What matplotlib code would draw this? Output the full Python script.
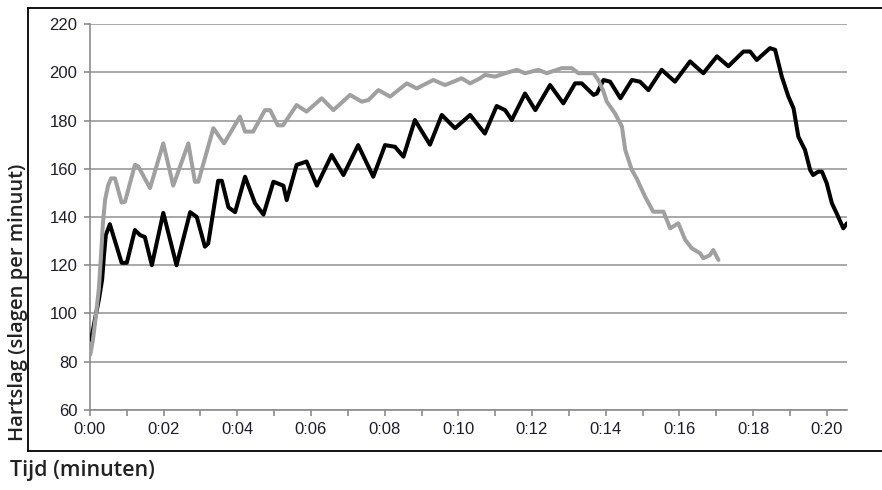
import numpy as np
import matplotlib
matplotlib.use("Agg")
import matplotlib.pyplot as plt
from matplotlib.lines import Line2D

# Heart rate traces: time in minutes, rate in bpm
black_t = [0.03, 0.14, 0.24, 0.33, 0.38, 0.43, 0.54, 0.86, 1.00, 1.22, 1.36, 1.49, 1.68,
           1.99, 2.35, 2.72, 2.90, 3.12, 3.21, 3.48, 3.58, 3.76, 3.94, 4.21, 4.48, 4.71,
           4.98, 5.25, 5.34, 5.61, 5.88, 6.16, 6.56, 6.88, 7.28, 7.69, 8.01, 8.28, 8.51,
           8.82, 9.23, 9.55, 9.91, 10.32, 10.72, 11.04, 11.27, 11.45, 11.81, 12.09, 12.49,
           12.85, 13.17, 13.35, 13.67, 13.76, 13.94, 14.12, 14.40, 14.71, 14.93, 15.16,
           15.52, 15.88, 16.29, 16.65, 17.02, 17.33, 17.74, 17.92, 18.10, 18.46, 18.60,
           18.78, 18.96, 19.10, 19.23, 19.41, 19.55, 19.63, 19.77, 19.87, 20.00, 20.14,
           20.27, 20.45, 20.55]
black_bpm = [89, 98, 105.6, 114, 124, 132.5, 137, 121, 121, 134.6, 132.5, 131.7, 120,
             141.7, 120, 142, 140, 127.7, 129, 155, 155, 144, 142, 156.7, 145.7, 141,
             154.6, 153, 147, 161.6, 163, 153, 165.7, 157.4, 169.8, 156.7, 169.8, 169.1, 165,
             180.2, 170, 182.3, 176.8, 182.3, 174.6, 186, 184.3, 180.2, 191.2, 184.3, 194.7,
             187.1, 195.4, 195.4, 190.6, 191.2, 196.8, 196.1, 189.2, 196.8, 196.1, 192.6,
             201, 196.1, 204.5, 199.6, 206.6, 202.5, 208.6, 208.6, 205.1, 210, 209.3,
             198.2, 189.9, 185, 173.3, 167.8, 159.5, 157.4, 158.8, 158.8, 154, 145.7,
             141.5, 135.3, 137.4]

grey_t = [0.01, 0.08, 0.16, 0.24, 0.30, 0.35, 0.41, 0.49, 0.57, 0.68, 0.86, 0.95, 1.22,
          1.31, 1.63, 1.99, 2.26, 2.67, 2.85, 2.94, 3.35, 3.64, 4.07, 4.21, 4.43, 4.75,
          4.89, 5.10, 5.24, 5.61, 5.88, 6.29, 6.61, 7.06, 7.38, 7.56, 7.83, 8.15, 8.60,
          8.87, 9.32, 9.64, 10.09, 10.32, 10.59, 10.72, 11.00, 11.27, 11.59, 11.81, 12.17,
          12.40, 12.81, 13.08, 13.26, 13.67, 13.80, 13.94, 14.03, 14.25, 14.44, 14.53,
          14.71, 14.84, 15.07, 15.29, 15.57, 15.75, 15.97, 16.16, 16.34, 16.56, 16.65,
          16.83, 16.92, 17.06]
grey_bpm = [83, 89, 99, 110, 124, 137, 147, 153, 156, 156, 146, 146.3, 161.6,
            161, 152, 170.5, 153, 170.5, 154.6, 154.6, 176.8, 170.5, 181.6, 175.4, 175.4, 184.3,
            184.3, 178, 178, 186.4, 183.7, 189.2, 184.3, 190.6, 187.8, 188.5, 192.6, 189.9, 195.4,
            193.3, 196.8, 194.7, 197.5, 195.4, 197.5, 198.9, 198.2, 199.6, 201, 199.6, 201,
            199.6, 201.7, 201.7, 199.6, 199.6, 196.8, 192, 187.8, 183, 177.5, 167.8,
            159.5, 156, 148.4, 142.2, 142.2, 135.3, 137.4, 130.5, 127, 125, 122.9,
            124.2, 126.3, 122.2]

y_ticks = [60, 80, 100, 120, 140, 160, 180, 200, 220]
x_labels = ["0:%02d" % m for m in range(0, 21, 2)]

axis_grey = "#8c8c8c"
label_font = ["Open Sans", "DejaVu Sans"]

fig = plt.figure(figsize=(8.82, 4.9), dpi=100)
ax = fig.add_axes([0.1020, 0.1633, 0.8583, 0.7877])

ax.plot(black_t, black_bpm, color="black", lw=2.9, solid_joinstyle="round",
        solid_capstyle="round", zorder=3)
ax.plot(grey_t, grey_bpm, color="#a0a0a0", lw=2.9, solid_joinstyle="round",
        solid_capstyle="round", zorder=4)

ax.set_xlim(0, 20.55)
ax.set_ylim(60, 220)
ax.set_yticks(y_ticks)
ax.set_xticks(range(0, 21, 2))
ax.set_xticklabels(x_labels)
ax.set_xticks(range(1, 21, 2), minor=True)
ax.yaxis.grid(True, color="#999999", lw=1.2)
ax.set_axisbelow(True)

for s in ["top", "right"]:
    ax.spines[s].set_visible(False)
for s in ["left", "bottom"]:
    ax.spines[s].set_color(axis_grey)
    ax.spines[s].set_linewidth(1.2)

ax.tick_params(axis="both", which="both", color=axis_grey, width=1.2, length=4,
               labelsize=12, labelcolor="#1c1c2c", pad=5)
for lab in ax.get_xticklabels() + ax.get_yticklabels():
    lab.set_family(["Liberation Sans", "DejaVu Sans"])

# outer chart frame
fig.add_artist(Line2D([0.0317, 1.0], [0.9837, 0.9837], color="black", lw=1.3))
fig.add_artist(Line2D([0.0317, 0.0317], [0.0796, 0.9837], color="black", lw=1.3))
fig.add_artist(Line2D([0.0317, 1.0], [0.0796, 0.0796], color="black", lw=1.3))

fig.text(0.0205, 0.382, "Hartslag (slagen per minuut)", rotation=90, ha="center", va="center",
         fontsize=14.5, fontweight="semibold", family=label_font, color="#222222")
fig.text(0.011, 0.040, "Tijd (minuten)", ha="left", va="center",
         fontsize=15.5, fontweight="semibold", family=label_font, color="#222222")

fig.savefig("out.png", dpi=100)
